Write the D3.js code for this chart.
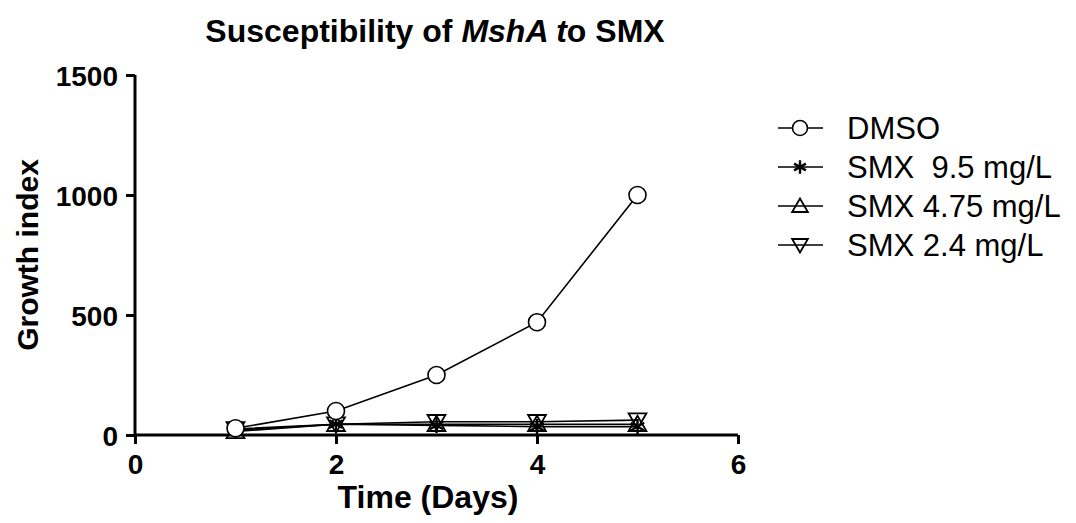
<!DOCTYPE html>
<html>
<head>
<meta charset="utf-8">
<script src="https://cdn.jsdelivr.net/npm/d3@7"></script>
<style>
  html, body { margin: 0; padding: 0; background: #fff; }
  svg { display: block; font-family: "Liberation Sans", Arial, sans-serif; }
</style>
</head>
<body>
<svg id="chart" width="1076" height="523"></svg>
<script>
// Growth index per day for each treatment
const days = [1, 2, 3, 4, 5];
const dmso   = [28, 100, 250, 470, 1000];
const smx95  = [20, 45, 40, 35, 35];
const smx475 = [15, 45, 45, 45, 45];
const smx24  = [25, 45, 55, 55, 62];
const seriesNames = ["DMSO", "SMX  9.5 mg/L", "SMX 4.75 mg/L", "SMX 2.4 mg/L"];
const seriesSymbols = ["circle", "star", "triUp", "triDown"];
const xTicks = [0, 2, 4, 6];
const yTicks = [0, 500, 1000, 1500];

const seriesValues = [dmso, smx95, smx475, smx24];
const series = seriesNames.map((name, i) => ({
  name, symbol: seriesSymbols[i],
  points: days.map((d, j) => ({ x: d, y: seriesValues[i][j] }))
}));

const svg = d3.select("#chart");
const x = d3.scaleLinear().domain([0, 6]).range([135, 738]);
const y = d3.scaleLinear().domain([0, 1500]).range([435, 75]);

// Marker drawing
function drawMarker(g, sym, cx, cy, s) {
  if (sym === "circle") {
    g.append("circle").attr("cx", cx).attr("cy", cy).attr("r", s)
      .attr("fill", "#fff").attr("stroke", "#000").attr("stroke-width", 1.6);
  } else if (sym === "star") {
    const r = s * 0.9;
    const segs = [[0, -r, 0, r], [-r * 0.87, -r * 0.5, r * 0.87, r * 0.5], [-r * 0.87, r * 0.5, r * 0.87, -r * 0.5]];
    segs.forEach(sg => g.append("line")
      .attr("x1", cx + sg[0]).attr("y1", cy + sg[1]).attr("x2", cx + sg[2]).attr("y2", cy + sg[3])
      .attr("stroke", "#000").attr("stroke-width", 2.4));
  } else if (sym === "triUp") {
    const p = [[cx, cy - s], [cx - s * 1.05, cy + s * 0.8], [cx + s * 1.05, cy + s * 0.8]];
    g.append("polygon").attr("points", p.map(q => q.join(",")).join(" "))
      .attr("fill", "none").attr("stroke", "#000").attr("stroke-width", 1.8);
  } else if (sym === "triDown") {
    const p = [[cx, cy + s], [cx - s * 1.05, cy - s * 0.8], [cx + s * 1.05, cy - s * 0.8]];
    g.append("polygon").attr("points", p.map(q => q.join(",")).join(" "))
      .attr("fill", "none").attr("stroke", "#000").attr("stroke-width", 1.8);
  }
}

// Title
const title = svg.append("text").attr("x", 435).attr("y", 42)
  .attr("text-anchor", "middle").attr("font-size", 32).attr("font-weight", "bold");
title.append("tspan").text("Susceptibility of ");
title.append("tspan").attr("font-style", "italic").text("MshA t");
title.append("tspan").text("o SMX");

// Axes
const xAxis = svg.append("g").attr("transform", `translate(0,${y(0)})`)
  .call(d3.axisBottom(x).tickValues(xTicks).tickFormat(d3.format("d")).tickSize(9).tickPadding(10));
const yAxis = svg.append("g").attr("transform", `translate(${x(0)},0)`)
  .call(d3.axisLeft(y).tickValues(yTicks).tickFormat(d3.format("d")).tickSize(9).tickPadding(8));
[xAxis, yAxis].forEach(a => {
  a.attr("font-size", null).attr("font-family", null);
  a.select(".domain").attr("stroke", "#000").attr("stroke-width", 3);
  a.selectAll(".tick line").attr("stroke", "#000").attr("stroke-width", 3);
  a.selectAll(".tick text").attr("fill", "#000").attr("font-size", 28).attr("font-weight", "bold");
});
xAxis.select(".domain").attr("d", `M${x(0)},0H${x(6)}`);
yAxis.select(".domain").attr("d", `M0,${y(1500)}V${y(0)}`);
xAxis.selectAll(".tick text").attr("dy", "0.71em");
yAxis.selectAll(".tick text").attr("dy", "0.36em");

// Axis titles
svg.append("text").attr("x", 428).attr("y", 508).attr("text-anchor", "middle")
  .attr("font-size", 32).attr("font-weight", "bold").text("Time (Days)");
svg.append("text").attr("transform", `translate(38,255) rotate(-90)`).attr("text-anchor", "middle")
  .attr("font-size", 30).attr("font-weight", "bold").text("Growth index");

// Data lines and markers
const line = d3.line().x(d => x(d.x)).y(d => y(d.y));
const plot = svg.append("g");
series.slice().reverse().forEach(s => {
  plot.append("path").attr("d", line(s.points)).attr("fill", "none")
    .attr("stroke", "#000").attr("stroke-width", 1.6);
});
series.slice().reverse().forEach(s => {
  const g = plot.append("g");
  s.points.forEach(p => drawMarker(g, s.symbol, x(p.x), y(p.y), 8.5));
});

// Legend
const legend = svg.append("g");
series.forEach((s, i) => {
  const ly = 128 + i * 39;
  const g = legend.append("g");
  g.append("line").attr("x1", 778).attr("x2", 823).attr("y1", ly).attr("y2", ly)
    .attr("stroke", "#000").attr("stroke-width", 1.6);
  drawMarker(g, s.symbol, 800, ly, 7.5);
  g.append("text").attr("x", 847).attr("y", ly + 11).attr("font-size", 31).text(s.name)
    .attr("style", "white-space: pre");
});
</script>
</body>
</html>
